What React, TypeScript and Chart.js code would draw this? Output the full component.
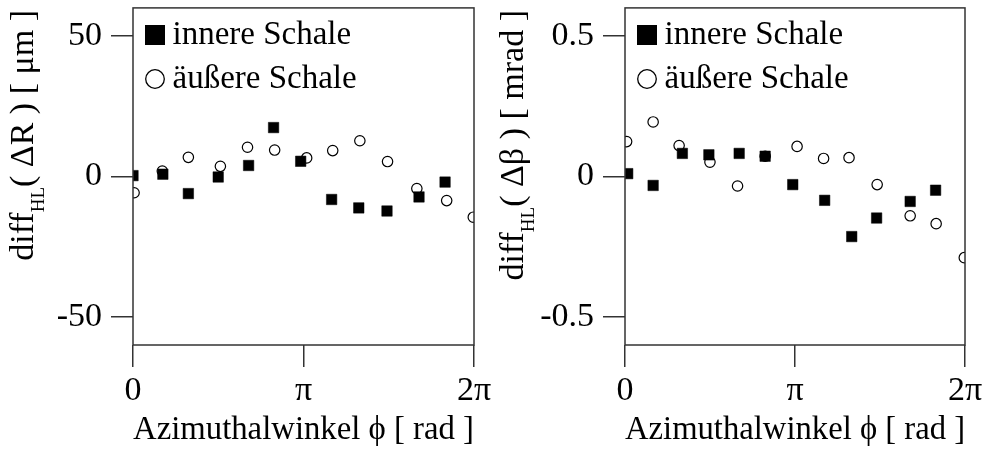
import React, { useEffect, useRef } from "react";
import { Chart, registerables } from "chart.js";

Chart.register(...registerables);

const FONT = '"Liberation Serif", "Times New Roman", serif';
const TWO_PI = 2 * Math.PI;

// Shared axis content
const xTickValues = [0, Math.PI, TWO_PI];
const xTickLabels = ["0", "π", "2π"];
const xTitle = "Azimuthalwinkel ϕ [ rad ]";
const seriesLabels = ["innere Schale", "äußere Schale"];

// Left panel: diff_HL(ΔR) [µm]
const leftYTicks = [-50, 0, 50];
const leftYTickLabels = ["-50", "0", "50"];
const leftYTitle = ["diff", "HL", "( ΔR ) [ μm ]"];
const leftPhiInner = [0, 0.55, 1.02, 1.57, 2.13, 2.59, 3.09, 3.66, 4.16, 4.68, 5.27, 5.75];
const leftInner = [0.3, 0.8, -6.1, -0.2, 3.9, 17.4, 5.4, -8.2, -11.2, -12.3, -7.3, -2.0];
const leftPhiOuter = [0.02, 0.54, 1.02, 1.61, 2.11, 2.61, 3.2, 3.68, 4.18, 4.69, 5.23, 5.78, 6.27];
const leftOuter = [-5.8, 1.9, 6.8, 3.6, 10.4, 9.4, 6.6, 9.2, 12.7, 5.3, -4.3, -8.6, -14.5];

// Right panel: diff_HL(Δβ) [mrad]
const rightYTicks = [-0.5, 0, 0.5];
const rightYTickLabels = ["-0.5", "0", "0.5"];
const rightYTitle = ["diff", "HL", "( Δβ ) [ mrad ]"];
const rightPhiInner = [0.05, 0.52, 1.06, 1.55, 2.11, 2.59, 3.1, 3.69, 4.19, 4.65, 5.27, 5.74];
const rightInner = [0.01, -0.032, 0.082, 0.077, 0.082, 0.072, -0.029, -0.085, -0.214, -0.148, -0.089, -0.049];
const rightPhiOuter = [0.03, 0.52, 1.0, 1.57, 2.08, 2.59, 3.18, 3.67, 4.14, 4.66, 5.27, 5.75, 6.27];
const rightOuter = [0.124, 0.194, 0.11, 0.051, -0.034, 0.072, 0.107, 0.064, 0.067, -0.029, -0.14, -0.168, -0.289];

function makeIcon(kind: "square" | "circle"): HTMLCanvasElement {
  const c = document.createElement("canvas");
  c.width = 32;
  c.height = 21;
  const g = c.getContext("2d")!;
  if (kind === "square") {
    g.fillStyle = "#000";
    g.fillRect(11, 0, 20, 20);
  } else {
    g.strokeStyle = "#000";
    g.lineWidth = 1.3;
    g.beginPath();
    g.arc(21, 10, 9.3, 0, Math.PI * 2);
    g.stroke();
  }
  return c;
}

const framePlugin = {
  id: "frame",
  afterDatasetsDraw(chart: any) {
    const { ctx, chartArea } = chart;
    ctx.save();
    ctx.strokeStyle = "#333";
    ctx.lineWidth = 1.5;
    ctx.strokeRect(chartArea.left, chartArea.top, chartArea.right - chartArea.left, chartArea.bottom - chartArea.top);
    ctx.restore();
  },
};

const yTitlePlugin = {
  id: "yTitleSub",
  afterDraw(chart: any, _args: any, opts: any) {
    const { parts, x, top, size, subSize, subShift } = opts;
    const ctx = chart.ctx;
    const mainFont = `${size}px ${FONT}`;
    const subFont = `${subSize}px ${FONT}`;
    ctx.save();
    ctx.font = mainFont;
    const w1 = ctx.measureText(parts[0]).width;
    const w3 = ctx.measureText(parts[2]).width;
    ctx.font = subFont;
    const w2 = ctx.measureText(parts[1]).width;
    const L = w1 + w2 + w3;
    ctx.translate(x, top + L);
    ctx.rotate(-Math.PI / 2);
    ctx.fillStyle = "#000";
    ctx.textAlign = "left";
    ctx.textBaseline = "alphabetic";
    ctx.font = mainFont;
    ctx.fillText(parts[0], 0, 0);
    ctx.font = subFont;
    ctx.fillText(parts[1], w1, subShift);
    ctx.font = mainFont;
    ctx.fillText(parts[2], w1 + w2, 0);
    ctx.restore();
  },
};

type PanelProps = {
  phiInner: number[];
  inner: number[];
  phiOuter: number[];
  outer: number[];
  yMin: number;
  yMax: number;
  yTicks: number[];
  yTickLabels: string[];
  yTitle: string[];
  axisWidth: number;
  padRight: number;
  titleX: number;
};

function Panel(p: PanelProps) {
  const ref = useRef<HTMLCanvasElement | null>(null);
  useEffect(() => {
    if (!ref.current) return;
    const icons = [makeIcon("square"), makeIcon("circle")];
    const zeroPad = (s: any) => {
      s.paddingTop = 0;
      s.paddingBottom = 0;
      s.paddingLeft = 0;
      s.paddingRight = 0;
    };
    const chart = new Chart(ref.current, {
      type: "scatter",
      data: {
        datasets: [
          {
            label: seriesLabels[0],
            data: p.phiInner.map((x, i) => ({ x, y: p.inner[i] })),
            pointStyle: "rect",
            pointRadius: 7.4,
            backgroundColor: "#000",
            borderColor: "#000",
            borderWidth: 0.5,
            clip: 0,
          },
          {
            label: seriesLabels[1],
            data: p.phiOuter.map((x, i) => ({ x, y: p.outer[i] })),
            pointStyle: "circle",
            pointRadius: 5.2,
            backgroundColor: "rgba(0,0,0,0)",
            borderColor: "#000",
            borderWidth: 1.2,
            clip: 0,
          },
        ],
      },
      options: {
        responsive: false,
        animation: false,
        events: [],
        layout: { padding: { top: 6, right: p.padRight, left: 0, bottom: 0 } },
        scales: {
          x: {
            type: "linear",
            min: 0,
            max: TWO_PI,
            afterBuildTicks: (s: any) => {
              s.ticks = xTickValues.map((v) => ({ value: v }));
            },
            afterFit: (s: any) => {
              s.height = 108;
              zeroPad(s);
            },
            ticks: {
              autoSkip: false,
              maxRotation: 0,
              padding: 4,
              color: "#000",
              font: { family: FONT, size: 34 },
              callback: (v: any) => {
                const i = xTickValues.findIndex((t) => Math.abs(t - Number(v)) < 1e-9);
                return i >= 0 ? xTickLabels[i] : "";
              },
            },
            grid: { drawOnChartArea: false, drawTicks: true, tickLength: 22, color: "#333", lineWidth: 1.5 },
            border: { display: false },
            title: {
              display: true,
              text: xTitle,
              color: "#000",
              font: { family: FONT, size: 33, lineHeight: 1.2 },
              padding: { top: 0, bottom: 3 },
            },
          },
          y: {
            type: "linear",
            min: p.yMin,
            max: p.yMax,
            afterBuildTicks: (s: any) => {
              s.ticks = p.yTicks.map((v) => ({ value: v }));
            },
            afterFit: (s: any) => {
              s.width = p.axisWidth;
              zeroPad(s);
            },
            ticks: {
              autoSkip: false,
              padding: 9,
              color: "#000",
              font: { family: FONT, size: 34 },
              callback: (v: any) => {
                const i = p.yTicks.findIndex((t) => Math.abs(t - Number(v)) < 1e-9);
                return i >= 0 ? p.yTickLabels[i] : "";
              },
            },
            grid: { drawOnChartArea: false, drawTicks: true, tickLength: 22, color: "#333", lineWidth: 1.5 },
            border: { display: false },
            title: { display: false },
          },
        },
        plugins: {
          tooltip: { enabled: false },
          legend: {
            display: true,
            position: "chartArea",
            align: "start",
            title: { display: true, text: "", padding: 0, font: { size: 8, lineHeight: 1 } },
            labels: {
              usePointStyle: true,
              boxWidth: 12,
              padding: 11,
              color: "#000",
              font: { family: FONT, size: 33 },
              generateLabels: (ch: any) =>
                (Chart.defaults.plugins.legend.labels.generateLabels as any)(ch).map((l: any, i: number) => ({
                  ...l,
                  pointStyle: icons[i],
                })),
            },
          },
          yTitleSub: {
            parts: p.yTitle,
            x: p.titleX,
            top: 10,
            size: 34,
            subSize: 19,
            subShift: 11,
          },
        } as any,
      },
      plugins: [framePlugin, yTitlePlugin],
    } as any);
    return () => chart.destroy();
  }, []);
  return <canvas ref={ref} width={493} height={453} style={{ display: "block" }} />;
}

export default function App() {
  return (
    <div style={{ position: "absolute", left: 0, top: 0, width: 986, height: 453, display: "flex", background: "#fff" }}>
      <Panel
        phiInner={leftPhiInner}
        inner={leftInner}
        phiOuter={leftPhiOuter}
        outer={leftOuter}
        yMin={-60}
        yMax={60}
        yTicks={leftYTicks}
        yTickLabels={leftYTickLabels}
        yTitle={leftYTitle}
        axisWidth={133}
        padRight={19}
        titleX={33}
      />
      <Panel
        phiInner={rightPhiInner}
        inner={rightInner}
        phiOuter={rightPhiOuter}
        outer={rightOuter}
        yMin={-0.6}
        yMax={0.6}
        yTicks={rightYTicks}
        yTickLabels={rightYTickLabels}
        yTitle={rightYTitle}
        axisWidth={132}
        padRight={21}
        titleX={30}
      />
    </div>
  );
}
